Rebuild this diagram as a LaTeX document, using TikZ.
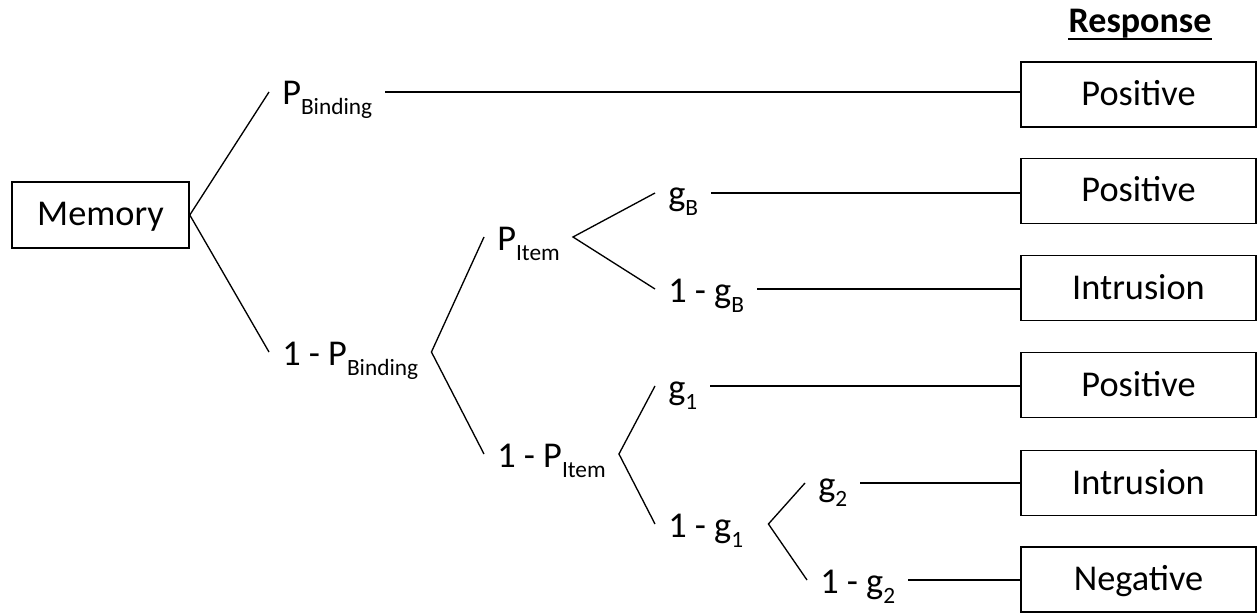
\documentclass[tikz,border=0pt]{standalone}
\usepackage{fontspec}
\setmainfont{Carlito}
\newcommand\sbs[1]{\raisebox{-7.5pt}{\fontsize{17.5pt}{17.5pt}\selectfont #1}}
\begin{document}
\begin{tikzpicture}[x=0.75pt,y=-0.75pt,
  every node/.style={font=\fontsize{27.25pt}{31pt}\selectfont},
  box/.style={draw,line width=1.2pt,inner sep=0pt,minimum width=176.25pt,minimum height=48.75pt,text height=16.5pt,text depth=0pt},
  lbl/.style={inner xsep=9.75pt,inner ysep=0pt,text height=19.5pt,text depth=0pt,anchor=base west},
  conn/.style={line width=1pt}]
\useasboundingbox (0,0) rectangle (1257,613);
% title
\node[inner sep=0pt,anchor=base,font=\fontsize{27pt}{31pt}\selectfont\bfseries] (title) at (1140,33) {Response};
\draw[line width=1.4pt] ([yshift=-4.5pt]title.base west) -- ([yshift=-4.5pt]title.base east);
% root
\node[box,minimum width=132.75pt,minimum height=49.5pt] (mem) at (100.5,215) {Memory};
% response boxes
\node[box] (r1) at (1138.5,94.5) {Positive};
\node[box] (r2) at (1138.5,191) {Positive};
\node[box] (r3) at (1138.5,288) {Intrusion};
\node[box] (r4) at (1138.5,385) {Positive};
\node[box] (r5) at (1138.5,483) {Intrusion};
\node[box] (r6) at (1138.5,579.5) {Negative};
% labels
\node[lbl] (pb)  at (269,105) {P\sbs{Binding}};
\node[lbl] (npb) at (269,365) {1 - P\sbs{Binding}};
\node[lbl] (pi)  at (484,250) {P\sbs{Item}};
\node[lbl] (npi) at (484,467) {1 - P\sbs{Item}};
\node[lbl] (gb)  at (655,206) {g\sbs{B}};
\node[lbl] (ngb) at (655,302) {1 - g\sbs{B}};
\node[lbl] (g1)  at (655,399) {g\sbs{1}};
\node[lbl] (ng1) at (655,537) {1 - g\sbs{1}};
\node[lbl] (g2)  at (805,496) {g\sbs{2}};
\node[lbl] (ng2) at (807,593) {1 - g\sbs{2}};
% branches
\draw[conn] (pb.west) -- (mem.east) -- (npb.west);
\draw[conn] (pi.west) -- (npb.east) -- (npi.west);
\draw[conn] (gb.west) -- (pi.east) -- (ngb.west);
\draw[conn] (g1.west) -- (npi.east) -- (ng1.west);
\draw[conn] (g2.west) -- ([xshift=9pt]ng1.east) -- (ng2.west);
% leaves
\draw[conn] (pb.east) -- (pb.east -| r1.west);
\draw[conn] (gb.east) -- (gb.east -| r2.west);
\draw[conn] (ngb.east) -- (ngb.east -| r3.west);
\draw[conn] (g1.east) -- (g1.east -| r4.west);
\draw[conn] (g2.east) -- (g2.east -| r5.west);
\draw[conn] (ng2.east) -- (ng2.east -| r6.west);
\end{tikzpicture}
\end{document}
